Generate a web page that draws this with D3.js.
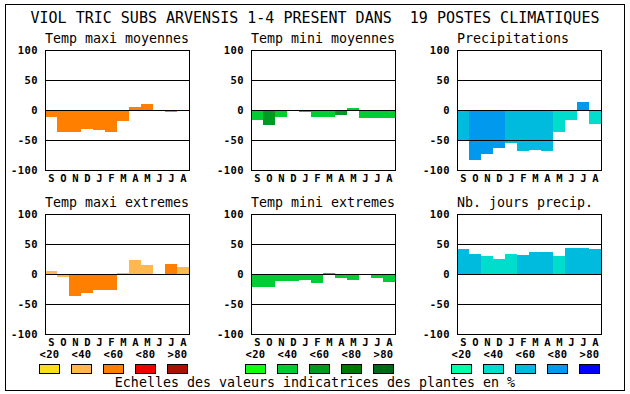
<!DOCTYPE html>
<meta charset="utf-8">
<script src="https://d3js.org/d3.v7.min.js"></script>
<style>
body { margin: 0; background: #fff; }
text { font-family: "DejaVu Sans Mono", monospace; fill: #000; }
.title { font-size: 15px; }
.sub { font-size: 13.3px; }
.tick, .month, .leg { font-size: 10.5px; font-weight: bold; letter-spacing: 0.4px; }
</style>
<div id="chart"></div>
<script>
// months and labels
var months = ["S","O","N","D","J","F","M","A","M","J","J","A"];
var ticks = [100, 50, 0, -50, -100];
var legendLabels = ["<20", "<40", "<60", "<80", ">80"];

// colour scales for the value classes
var warmColors = ["#f8e018", "#ffb850", "#ff8000", "#ee0000", "#aa1000"];
var greenColors = ["#10ff10", "#00cc33", "#009922", "#007700", "#006618"];
var blueColors = ["#00ffaa", "#00ddcc", "#00bbdd", "#0099ee", "#0000ff"];

// values per month (S..A) and class index for each bar
var tmaxMoy = [-11, -36, -36, -31, -34, -36, -18, 5, 10, 0, -4, -2];
var tmaxMoyCls = [2, 2, 2, 2, 2, 2, 2, 2, 2, 2, 2, 2];
var tminMoy = [-16, -25, -11, -2, -4, -11, -11, -8, 4, -13, -14, -14];
var tminMoyCls = [1, 2, 1, 1, 1, 1, 1, 2, 1, 1, 1, 1];
var precip = [-50, -84, -73, -64, -55, -68, -66, -68, -36, -16, 13, -23];
var precipCls = [2, 3, 3, 3, 2, 2, 2, 2, 1, 1, 3, 1];
var tmaxExt = [5, -5, -36, -32, -26, -26, 2, 24, 15, 0, 17, 12];
var tmaxExtCls = [1, 1, 2, 2, 2, 2, 1, 1, 1, 1, 2, 1];
var tminExt = [-21, -21, -12, -12, -10, -15, 2, -7, -10, 0, -7, -14];
var tminExtCls = [1, 1, 1, 1, 1, 1, 1, 1, 1, 1, 1, 1];
var nbJours = [42, 34, 30, 25, 34, 32, 37, 37, 30, 44, 44, 42];
var nbJoursCls = [2, 2, 1, 1, 1, 2, 2, 2, 1, 2, 2, 2];

var panels = [
  {name: "Temp maxi moyennes", vals: tmaxMoy, cls: tmaxMoyCls, pal: warmColors, col: 0, row: 0},
  {name: "Temp mini moyennes", vals: tminMoy, cls: tminMoyCls, pal: greenColors, col: 1, row: 0},
  {name: "Precipitations", vals: precip, cls: precipCls, pal: blueColors, col: 2, row: 0},
  {name: "Temp maxi extremes", vals: tmaxExt, cls: tmaxExtCls, pal: warmColors, col: 0, row: 1},
  {name: "Temp mini extremes", vals: tminExt, cls: tminExtCls, pal: greenColors, col: 1, row: 1},
  {name: "Nb. jours precip.", vals: nbJours, cls: nbJoursCls, pal: blueColors, col: 2, row: 1}
];

var W = 630, H = 394;
var svg = d3.select("#chart").append("svg")
  .attr("width", W).attr("height", H);

// outer frame
svg.append("rect")
  .attr("x", 5.5).attr("y", 4.5)
  .attr("width", 619).attr("height", 386)
  .attr("fill", "none").attr("stroke", "#000");

svg.append("text").attr("class", "title")
  .attr("x", 315).attr("y", 23)
  .attr("text-anchor", "middle")
  .attr("xml:space", "preserve")
  .text("VIOL TRIC SUBS ARVENSIS 1-4 PRESENT DANS  19 POSTES CLIMATIQUES");

var pw = 144, ph = 120;

panels.forEach(function(p) {
  var left = 45 + p.col * 206, top = 50 + p.row * 164;
  var g = svg.append("g").attr("transform", "translate(" + left + "," + top + ")");

  var x = d3.scaleBand().domain(d3.range(12)).range([0, pw]).padding(0);
  var y = d3.scaleLinear().domain([-100, 100]).range([ph, 0]);

  g.append("text").attr("class", "sub")
    .attr("x", 0).attr("y", -7)
    .text(p.name);

  g.selectAll(".bar")
    .data(p.vals)
    .enter().append("rect")
      .attr("class", "bar")
      .attr("shape-rendering", "crispEdges")
      .attr("x", function(d, i) { return x(i); })
      .attr("width", x.bandwidth())
      .attr("y", function(d) { return y(Math.max(0, d)); })
      .attr("height", function(d) { return Math.abs(y(d) - y(0)); })
      .attr("fill", function(d, i) { return p.pal[p.cls[i]]; });

  // grid lines on top of bars
  g.selectAll(".grid")
    .data([50, 0, -50])
    .enter().append("line")
      .attr("x1", 0).attr("x2", pw)
      .attr("y1", function(d) { return Math.round(y(d)) + 0.5; })
      .attr("y2", function(d) { return Math.round(y(d)) + 0.5; })
      .attr("stroke", "#000");

  g.append("rect")
    .attr("x", 0.5).attr("y", 0.5)
    .attr("width", pw).attr("height", ph)
    .attr("fill", "none").attr("stroke", "#000");

  g.selectAll(".tick")
    .data(ticks)
    .enter().append("text")
      .attr("class", "tick")
      .attr("x", -7)
      .attr("y", function(d) { return y(d) + 4; })
      .attr("text-anchor", "end")
      .text(function(d) { return String(d); });

  g.selectAll(".month")
    .data(months)
    .enter().append("text")
      .attr("class", "month")
      .attr("x", function(d, i) { return x(i) + x.bandwidth() / 2 + 0.5; })
      .attr("y", ph + 11.5)
      .attr("text-anchor", "middle")
      .text(function(d) { return d; });

  // legend under the bottom row
  if (p.row === 1) {
    var lg = svg.append("g").attr("transform", "translate(" + (49 + p.col * 206) + ",0)");
    lg.selectAll(".leg")
      .data(legendLabels)
      .enter().append("text")
        .attr("class", "leg")
        .attr("x", function(d, i) { return i * 32 + 0.5; })
        .attr("y", 358)
        .attr("text-anchor", "middle")
        .text(function(d) { return d; });
    lg.selectAll(".sw")
      .data(p.pal)
      .enter().append("rect")
        .attr("class", "sw")
        .attr("x", function(d, i) { return i * 32 - 10 + 0.5; })
        .attr("y", 364.5)
        .attr("width", 20).attr("height", 9)
        .attr("fill", function(d) { return d; })
        .attr("stroke", "#000");
  }
});

svg.append("text").attr("class", "sub")
  .attr("x", 315).attr("y", 386.5)
  .attr("text-anchor", "middle")
  .text("Echelles des valeurs indicatrices des plantes en %");
</script>
